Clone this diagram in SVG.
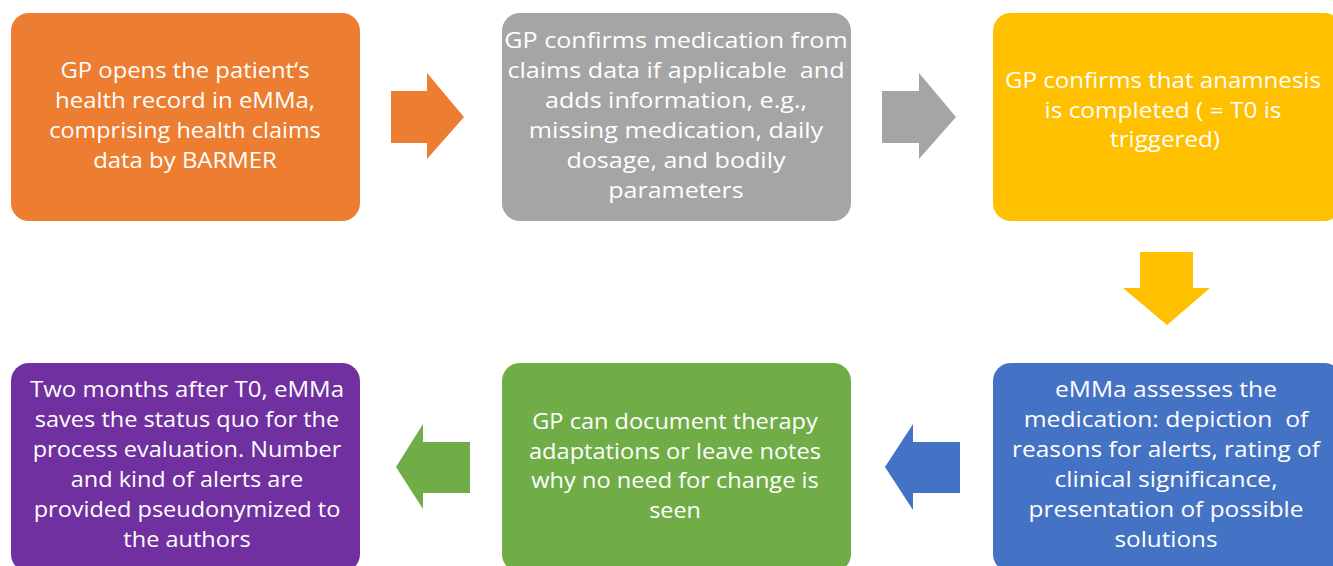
<svg xmlns="http://www.w3.org/2000/svg" width="1333" height="566" viewBox="0 0 1333 566">
<style>
.box{stroke:none}
.t{font-family:"Open Sans","Liberation Sans",sans-serif;font-size:21.5px;fill:#ffffff;text-anchor:middle}
</style>
<rect x="0" y="0" width="1333" height="566" fill="#ffffff"/>
<g id="connectors">
<polygon points="391,91 427,91 427,73 464,117 427,159 427,143 391,143" fill="#ED7D31"/>
<polygon points="882,91 919,91 919,73 956,117 919,159 919,143 882,143" fill="#A5A5A5"/>
<polygon points="1140,252 1193,252 1193,288 1210,288 1167,325 1123,288 1140,288" fill="#FFC000"/>
<polygon points="960,442 913,442 913,424 885,467 913,510 913,493 960,493" fill="#4472C4"/>
<polygon points="470,442 423,442 423,424 396,467 423,509 423,493 470,493" fill="#70AD47"/>
</g>
<g id="n1">
<rect class="box" x="11" y="13" width="349" height="208" rx="18" fill="#ED7D31"/>
<text class="t" x="185" y="78" textLength="249" lengthAdjust="spacingAndGlyphs">GP opens the patient‘s</text>
<text class="t" x="185" y="108" textLength="260" lengthAdjust="spacingAndGlyphs">health record in eMMa,</text>
<text class="t" x="185" y="138" textLength="271.6" lengthAdjust="spacingAndGlyphs">comprising health claims</text>
<text class="t" x="185" y="168" textLength="183.6" lengthAdjust="spacingAndGlyphs">data by BARMER</text>
</g>
<g id="n2">
<rect class="box" x="502" y="13" width="349" height="208" rx="18" fill="#A5A5A5"/>
<text class="t" x="676" y="48" textLength="343.4" lengthAdjust="spacingAndGlyphs">GP confirms medication from</text>
<text class="t" x="676" y="78" textLength="337" lengthAdjust="spacingAndGlyphs">claims data if applicable&#160; and</text>
<text class="t" x="676" y="108" textLength="262" lengthAdjust="spacingAndGlyphs">adds information, e.g.,</text>
<text class="t" x="676" y="138" textLength="294.4" lengthAdjust="spacingAndGlyphs">missing medication, daily</text>
<text class="t" x="676" y="168" textLength="219.2" lengthAdjust="spacingAndGlyphs">dosage, and bodily</text>
<text class="t" x="676" y="198" textLength="135.4" lengthAdjust="spacingAndGlyphs">parameters</text>
</g>
<g id="n3">
<rect class="box" x="993" y="13" width="349" height="208" rx="18" fill="#FFC000"/>
<text class="t" x="1163" y="87.5" textLength="315.9" lengthAdjust="spacingAndGlyphs">GP confirms that anamnesis</text>
<text class="t" x="1163" y="117.5" textLength="237" lengthAdjust="spacingAndGlyphs">is completed ( = T0 is</text>
<text class="t" x="1165" y="147" textLength="110" lengthAdjust="spacingAndGlyphs">triggered)</text>
</g>
<g id="n4">
<rect class="box" x="993" y="363" width="349" height="209" rx="18" fill="#4472C4"/>
<text class="t" x="1166" y="397" textLength="222" lengthAdjust="spacingAndGlyphs">eMMa assesses the</text>
<text class="t" x="1166" y="427" textLength="284.6" lengthAdjust="spacingAndGlyphs">medication: depiction&#160; of</text>
<text class="t" x="1166" y="457" textLength="307.9" lengthAdjust="spacingAndGlyphs">reasons for alerts, rating of</text>
<text class="t" x="1166" y="487" textLength="223.1" lengthAdjust="spacingAndGlyphs">clinical significance,</text>
<text class="t" x="1166" y="517" textLength="274.8" lengthAdjust="spacingAndGlyphs">presentation of possible</text>
<text class="t" x="1166" y="547" textLength="103" lengthAdjust="spacingAndGlyphs">solutions</text>
</g>
<g id="n5">
<rect class="box" x="502" y="363" width="349" height="209" rx="18" fill="#70AD47"/>
<text class="t" x="675" y="429" textLength="285.5" lengthAdjust="spacingAndGlyphs">GP can document therapy</text>
<text class="t" x="675" y="458.5" textLength="292" lengthAdjust="spacingAndGlyphs">adaptations or leave notes</text>
<text class="t" x="675" y="488" textLength="287.4" lengthAdjust="spacingAndGlyphs">why no need for change is</text>
<text class="t" x="675" y="517.5" textLength="51.6" lengthAdjust="spacingAndGlyphs">seen</text>
</g>
<g id="n6">
<rect class="box" x="11" y="363" width="349" height="209" rx="18" fill="#7030A0"/>
<text class="t" x="187" y="397" textLength="314" lengthAdjust="spacingAndGlyphs">Two months after T0, eMMa</text>
<text class="t" x="187" y="427" textLength="304.3" lengthAdjust="spacingAndGlyphs">saves the status quo for the</text>
<text class="t" x="187" y="457" textLength="308.6" lengthAdjust="spacingAndGlyphs">process evaluation. Number</text>
<text class="t" x="187" y="487" textLength="232.4" lengthAdjust="spacingAndGlyphs">and kind of alerts are</text>
<text class="t" x="187" y="517" textLength="306.7" lengthAdjust="spacingAndGlyphs">provided pseudonymized to</text>
<text class="t" x="187" y="547" textLength="127.3" lengthAdjust="spacingAndGlyphs">the authors</text>
</g>
</svg>
